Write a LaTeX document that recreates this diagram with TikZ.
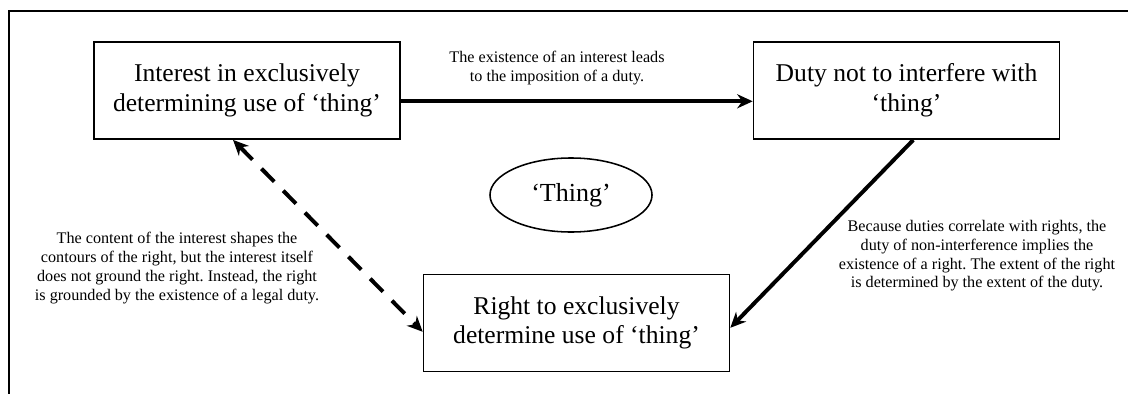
\documentclass[tikz,border=0pt]{standalone}
\usepackage{fontspec}
\setmainfont{Liberation Serif}
\usetikzlibrary{arrows.meta,shapes.geometric}
\tikzset{
  claim/.style = {draw, line width=1.1pt, align=center, font=\fontsize{18.2}{21}\selectfont,
                  minimum width=7.65cm, minimum height=2.43cm, inner sep=2pt},
  note/.style = {align=center, font=\fontsize{11.5}{13.3}\selectfont, inner sep=1pt},
  link/.style = {line width=2.8pt, -{Stealth[length=11pt,width=10pt]}}
}
\frenchspacing
\begin{document}
\begin{tikzpicture}[x=0.025cm, y=-0.025cm]
        \useasboundingbox (0,0) rectangle (1128,394);
        %Frame
        \draw[line width=1.4pt] (1128,11) -| (9,394);
        %Claims
        \node[claim] (interest) at (247,90.5)
        {Interest in exclusively\\determining use of `thing'};
        \node[claim] (duty) at (906.5,90.5)
        {Duty not to interfere with\\`thing'};
        \node[claim] (right) at (576.5,323)
        {Right to exclusively\\determine use of `thing'};
        \node[draw, line width=1.1pt, ellipse, minimum width=4.05cm, minimum height=1.85cm,
              font=\fontsize{18.5}{20}\selectfont] (thing) at (571,195) {`Thing'};
        %Interest to duty
        \draw[link] ([yshift=-0.27cm]interest.east) -- ([yshift=-0.27cm]duty.west);
        \node[note] (lead) at (557,68)
        {The existence of an interest leads\\to the imposition of a duty.};
        %Duty to right
        \draw[link] ([xshift=0.17cm]duty.south) -- ([yshift=-0.12cm]right.east);
        \node[note] (correl) at (977,256)
        {Because duties correlate with rights, the\\duty of non-interference implies the\\existence of a right. The extent of the right\\is determined by the extent of the duty.};
        %Interest and right
        \draw[link, {Stealth[length=11pt,width=10pt]}-{Stealth[length=11pt,width=10pt]}, dash pattern=on 13pt off 9pt]
        ([xshift=-0.35cm]interest.south) -- ([yshift=-0.22cm]right.west);
        \node[note] (content) at (177,268)
        {The content of the interest shapes the\\contours of the right, but the interest itself\\does not ground the right. Instead, the right\\is grounded by the existence of a legal duty.};
\end{tikzpicture}
\end{document}
